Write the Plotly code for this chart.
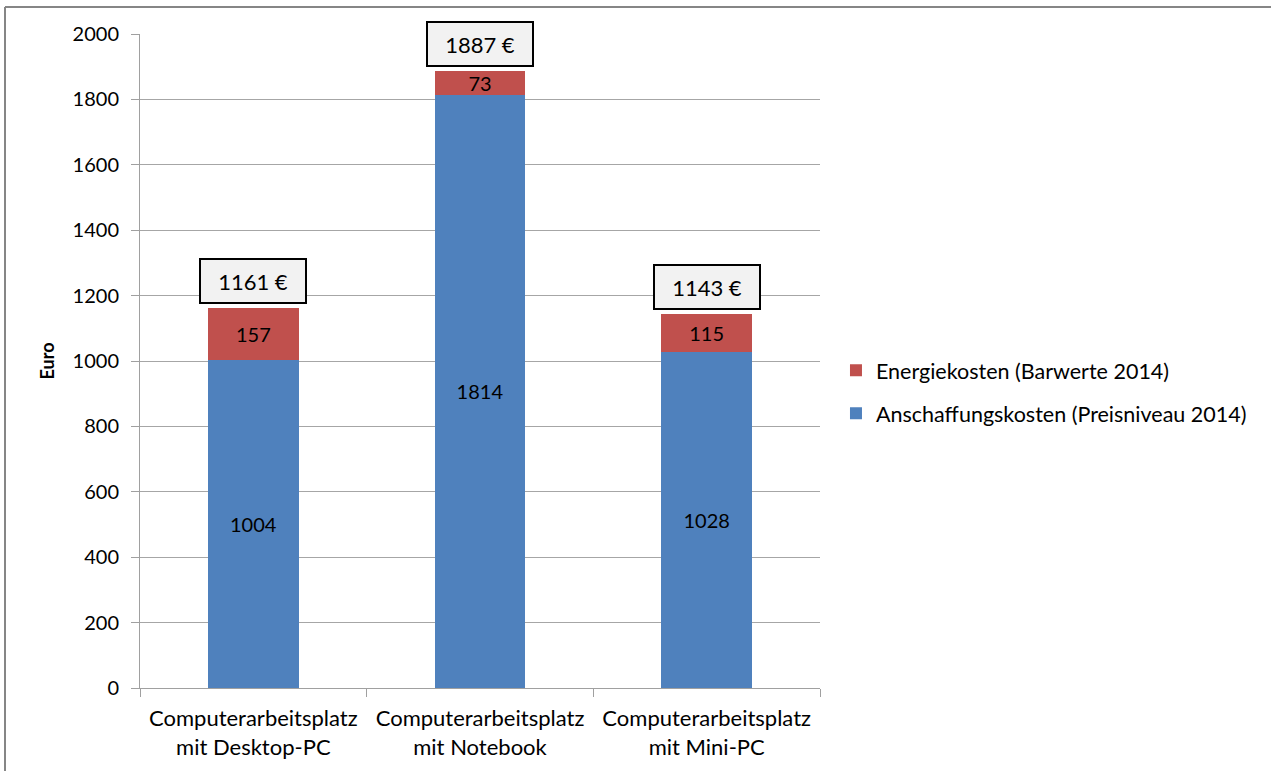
import plotly.graph_objects as go

# Daten
kategorien = ["Computerarbeitsplatz<br>mit Desktop-PC",
              "Computerarbeitsplatz<br>mit Notebook",
              "Computerarbeitsplatz<br>mit Mini-PC"]
anschaffung = [1004, 1814, 1028]
energie = [157, 73, 115]
summen = [1161, 1887, 1143]

blau = "#4F81BD"
rot = "#C0504D"
schrift = "Lato, 'Open Sans', sans-serif"

fig = go.Figure()
fig.add_trace(go.Bar(
    x=kategorien, y=anschaffung, name="Anschaffungskosten (Preisniveau 2014)",
    legendgroup="a", legendrank=2,
    marker=dict(color=blau, line=dict(width=0)),
    text=anschaffung, textposition="inside", insidetextanchor="middle",
    textfont=dict(color="black", size=20), textangle=0,
))
fig.add_trace(go.Bar(
    x=kategorien, y=energie, name="Energiekosten (Barwerte 2014)",
    legendgroup="e", legendrank=1,
    marker=dict(color=rot, line=dict(width=0)),
    text=energie, textposition="inside", insidetextanchor="middle",
    textfont=dict(color="black", size=20), textangle=0,
))

# Summen-Beschriftungen mit Rahmen
for k, s in zip(kategorien, summen):
    fig.add_annotation(
        x=k, y=s, text=f"{s} €", showarrow=False,
        yanchor="bottom", yshift=4, width=90, height=28,
        font=dict(size=22, color="black", family=schrift),
        bgcolor="#F2F2F2", bordercolor="black", borderwidth=2, borderpad=7,
    )

# Rahmen um das Diagramm
rand_x = (5 - 140) / 680
rand_y = (688 - 7) / 654
fig.add_shape(type="line", xref="paper", yref="paper",
              x0=rand_x, x1=(1280 - 140) / 680, y0=rand_y, y1=rand_y,
              line=dict(color="#868686", width=2))
fig.add_shape(type="line", xref="paper", yref="paper",
              x0=rand_x, x1=rand_x, y0=rand_y, y1=(688 - 780) / 654,
              line=dict(color="#868686", width=2))

fig.update_layout(
    width=1271, height=771,
    margin=dict(l=140, r=451, t=34, b=83),
    barmode="stack", bargap=0.6,
    paper_bgcolor="white", plot_bgcolor="white",
    font=dict(family=schrift, size=20, color="black"),
    uniformtext=dict(minsize=20, mode="show"),
    legend=dict(
        x=1.0235, y=0.453, xanchor="left", yanchor="middle",
        traceorder="grouped", font=dict(size=21.5),
        itemwidth=30, tracegroupgap=12,
    ),
    xaxis=dict(
        showline=True, linecolor="#A0A0A0", linewidth=1,
        ticks="outside", tickson="boundaries", ticklen=8, tickcolor="#A0A0A0",
        tickfont=dict(size=22), ticklabelstandoff=11,
    ),
    yaxis=dict(
        range=[0, 2000], dtick=200,
        showgrid=True, gridcolor="#A6A6A6", gridwidth=1,
        showline=True, linecolor="#A0A0A0", linewidth=1,
        ticks="outside", ticklen=8, tickcolor="#A0A0A0",
        tickfont=dict(size=20), zeroline=False, ticklabelstandoff=8,
        title=dict(text="<b>Euro</b>", font=dict(size=18), standoff=13),
    ),
)

# Seitenrand des Browsers entfernen, damit das Diagramm bei (0,0) beginnt
fig.write_html("out.html", config={"displayModeBar": False},
               post_script="document.body.style.margin='0';")
